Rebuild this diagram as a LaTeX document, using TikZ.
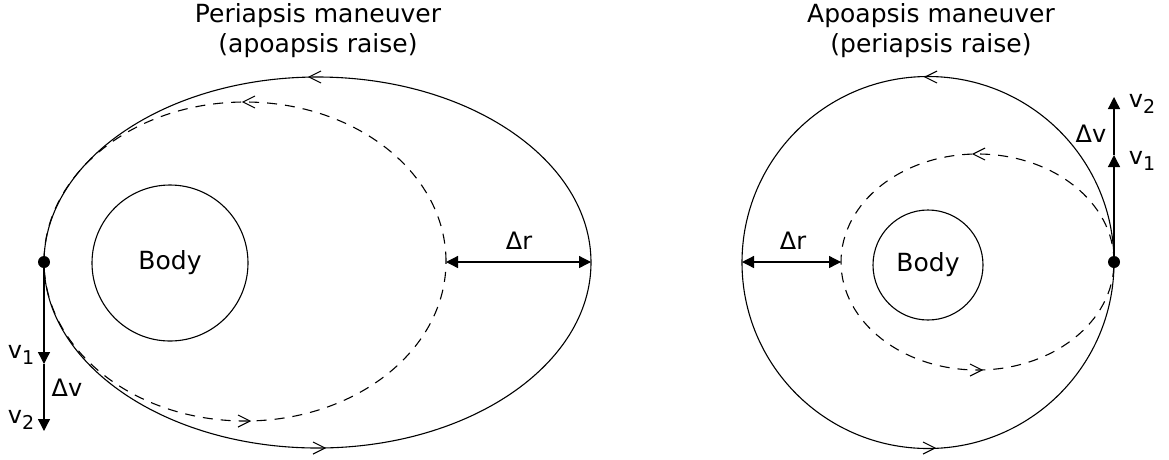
\documentclass[tikz,border=0pt]{standalone}
\usepackage{fontspec}
\setmainfont{DejaVu Sans}
\usetikzlibrary{arrows.meta}
\newcommand{\mysub}[1]{\raisebox{-0.22em}{\fontsize{19}{20}\selectfont #1}}
\begin{document}
\begin{tikzpicture}[x=1pt,y=-1pt,
  orbit/.style={line width=1.1pt},
  dashorbit/.style={line width=1.1pt, dash pattern=on 10pt off 8pt},
  chev/.style={line width=1.1pt},
  vec/.style={line width=1.3pt,-{Triangle[length=12pt,width=12pt]}},
  dim/.style={line width=1.3pt,{Triangle[length=12pt,width=12pt]}-{Triangle[length=12pt,width=12pt]}},
  lbl/.style={font=\fontsize{24}{28}\selectfont, inner sep=0pt},
  ttl/.style={font=\fontsize{25}{30}\selectfont, inner sep=0pt, anchor=base},
  dot/.style={circle, fill=black, inner sep=0pt, minimum size=12pt},
  body/.style={circle, draw, line width=1.1pt, inner sep=0pt, font=\fontsize{25}{30}\selectfont}]
\useasboundingbox (0,0) rectangle (1169,459);

% ---------- left diagram ----------
\node[ttl] (t1a) at (318,22) {Periapsis maneuver};
\node[ttl] (t1b) at (318,52) {(apoapsis raise)};

\draw[orbit] (317.5,262.5) ellipse [x radius=273.5pt, y radius=185.5pt];
\draw[dashorbit] (245,261.5) ellipse [x radius=201pt, y radius=159.5pt];
\node[body, minimum size=156pt] (bodyL) at (170,263) {Body};

% orbit direction marks
\draw[chev] (321,71) -- (309,77) -- (321,83);
\draw[chev] (255,96) -- (243,102) -- (255,108);
\draw[chev] (238,415) -- (250,421) -- (238,427);
\draw[chev] (313,442) -- (325,448) -- (313,454);

\coordinate (dashRL) at (446,262);
\coordinate (outRL) at (591,262);
\draw[dim] (dashRL) -- (outRL);
\node[lbl] (drL) at (519,241) {Δr};

\node[dot] (dotL) at (44,262) {};
\coordinate (v1L) at (44,364);
\coordinate (v2L) at (44,431);
\draw[vec] (dotL.center) -- (v1L);
\draw[vec] (v1L) -- (v2L);
\node[lbl] (v1Llab) at (21,355) {v\mysub{1}};
\node[lbl] (dvL) at (67,388) {Δv};
\node[lbl] (v2Llab) at (21,420) {v\mysub{2}};

% ---------- right diagram ----------
\node[ttl] (t2a) at (931,22) {Apoapsis maneuver};
\node[ttl] (t2b) at (931,52) {(periapsis raise)};

\draw[orbit] (928,262.5) circle [radius=186pt];
\draw[dashorbit] (977.5,262) ellipse [x radius=136.5pt, y radius=108pt];
\node[body, minimum size=110pt] (bodyR) at (928,265) {Body};

\draw[chev] (937,71) -- (925,77) -- (937,83);
\draw[chev] (985,148) -- (973,154) -- (985,160);
\draw[chev] (970,364) -- (982,370) -- (970,376);
\draw[chev] (923,442) -- (935,448) -- (923,454);

\coordinate (outLR) at (742,262);
\coordinate (dashLR) at (841,262);
\draw[dim] (outLR) -- (dashLR);
\node[lbl] (drR) at (793,241) {Δr};

\node[dot] (dotR) at (1114,262) {};
\coordinate (v1R) at (1114,155);
\coordinate (v2R) at (1114,97);
\draw[vec] (dotR.center) -- (v1R);
\draw[vec] (v1R) -- (v2R);
\node[lbl] (v1Rlab) at (1142,161) {v\mysub{1}};
\node[lbl] (dvR) at (1091,134) {Δv};
\node[lbl] (v2Rlab) at (1142,104) {v\mysub{2}};
\end{tikzpicture}
\end{document}
